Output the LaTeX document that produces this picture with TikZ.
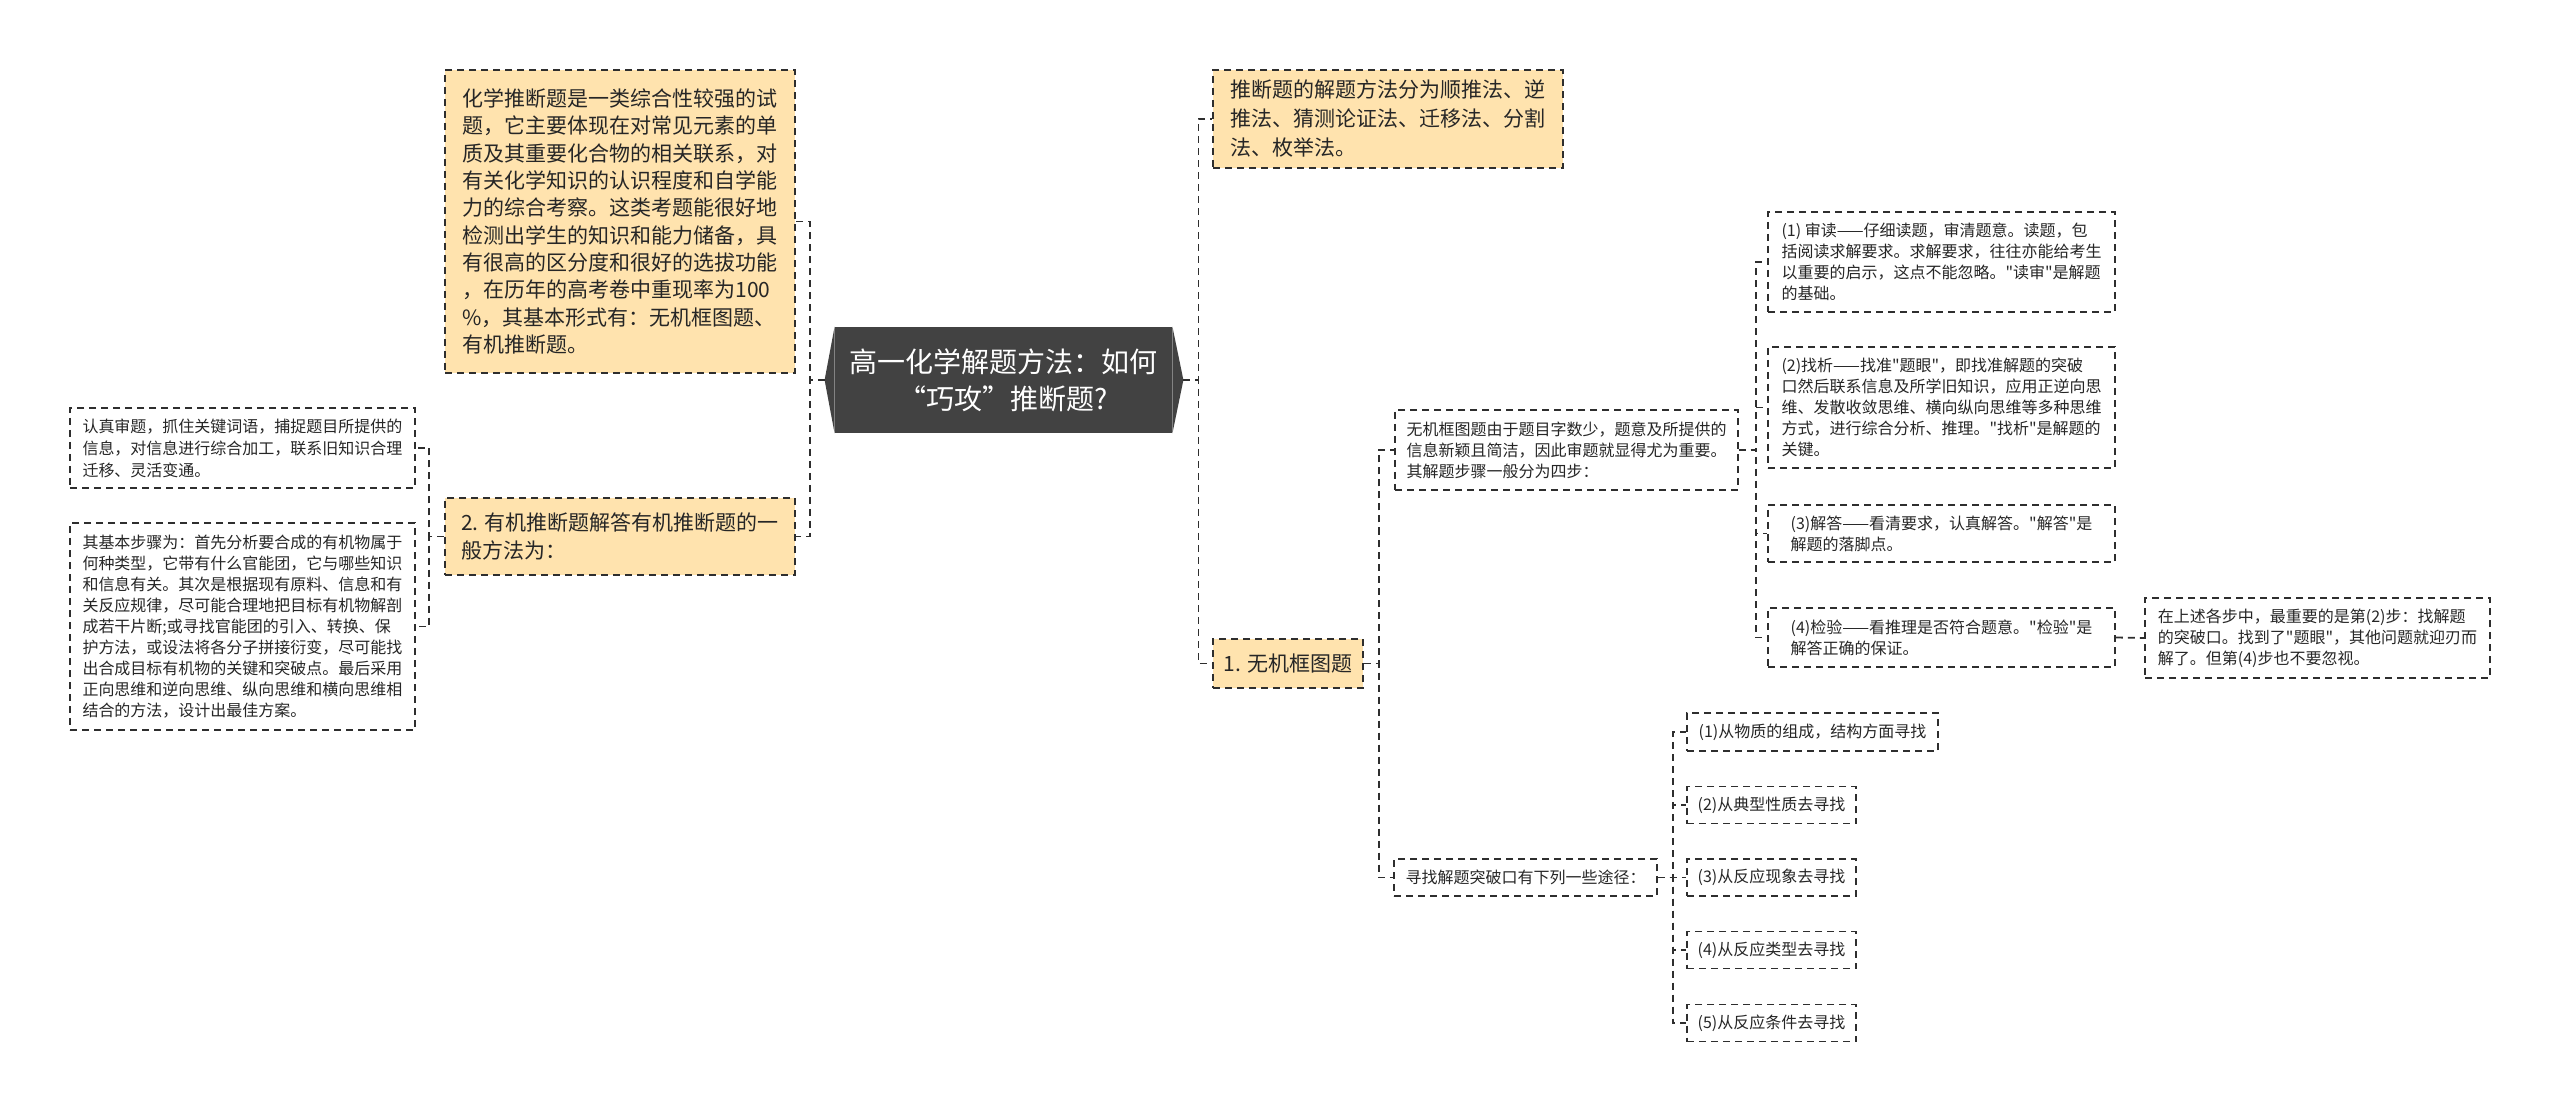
\documentclass[tikz,border=0pt]{standalone}
\usepackage{fontspec}
\setmainfont{Noto Sans CJK SC}[Ligatures=TeXOff]
\definecolor{yfill}{HTML}{FFE3AE}
\definecolor{linec}{HTML}{2E2E2E}
\definecolor{rootfill}{HTML}{424242}
\tikzset{
  bx/.style={draw=linec, line width=0.9pt, dash pattern=on 3.5pt off 2.5pt, align=left, inner sep=2pt, anchor=center, text=black!85},
  ybx/.style={bx, fill=yfill, font={\fontsize{10.5}{14}\selectfont}},
  wbx/.style={bx, fill=white, font={\fontsize{8}{10.5}\selectfont}},
  conn/.style={draw=linec, line width=0.9pt, dash pattern=on 3.5pt off 2.5pt},
}
\begin{document}
\begin{tikzpicture}[x=0.5pt,y=-0.5pt]
\useasboundingbox[fill=white] (0,0) rectangle (2560,1112);

% root
\node[fill=rootfill, text=white, minimum width=168.5pt, minimum height=53pt, inner sep=0pt, align=center,
      font={\fontsize{14}{18.5}\selectfont}] (root) at (1003.5,380) {高一化学解题方法：如何\\“巧攻”推断题?};
\coordinate (rootL) at ([xshift=-5pt]root.west);
\coordinate (rootR) at ([xshift=5.5pt]root.east);
\fill[rootfill] (root.north west) -- (rootL) -- (root.south west) -- cycle;
\fill[rootfill] (root.north east) -- (rootR) -- (root.south east) -- cycle;

% left side
\node[ybx, minimum width=175pt, minimum height=151.5pt, font={\fontsize{10.5}{13.65}\selectfont}] (intro) at (620,221.5) {化学推断题是一类综合性较强的试\\题，它主要体现在对常见元素的单\\质及其重要化合物的相关联系，对\\有关化学知识的认识程度和自学能\\力的综合考察。这类考题能很好地\\检测出学生的知识和能力储备，具\\有很高的区分度和很好的选拔功能\\，在历年的高考卷中重现率为100\\\%，其基本形式有：无机框图题、\\有机推断题。};
\node[ybx, minimum width=175pt, minimum height=38.5pt] (organic) at (620,536.5) {2. 有机推断题解答有机推断题的一\\般方法为：};
\node[wbx, minimum width=172.5pt, minimum height=40pt, font={\fontsize{8}{11}\selectfont}] (A) at (242.5,448) {认真审题，抓住关键词语，捕捉题目所提供的\\信息，对信息进行综合加工，联系旧知识合理\\迁移、灵活变通。};
\node[wbx, minimum width=172.5pt, minimum height=103.5pt] (B) at (242.5,626.5) {其基本步骤为：首先分析要合成的有机物属于\\何种类型，它带有什么官能团，它与哪些知识\\和信息有关。其次是根据现有原料、信息和有\\关反应规律，尽可能合理地把目标有机物解剖\\成若干片断;或寻找官能团的引入、转换、保\\护方法，或设法将各分子拼接衍变，尽可能找\\出合成目标有机物的关键和突破点。最后采用\\正向思维和逆向思维、纵向思维和横向思维相\\结合的方法，设计出最佳方案。};

% right side
\node[ybx, minimum width=175pt, minimum height=49pt, font={\fontsize{10.5}{14.5}\selectfont}] (methods) at (1388,119) {推断题的解题方法分为顺推法、逆\\推法、猜测论证法、迁移法、分割\\法、枚举法。};
\node[ybx, minimum width=75pt, minimum height=24.5pt] (wuji) at (1288,663.5) {1. 无机框图题};
\node[wbx, minimum width=171.5pt, minimum height=40pt] (desc) at (1566.5,450) {无机框图题由于题目字数少，题意及所提供的\\信息新颖且简洁，因此审题就显得尤为重要。\\其解题步骤一般分为四步：};
\node[wbx, minimum width=173.5pt, minimum height=50pt] (s1) at (1941.5,262) {(1) 审读——仔细读题，审清题意。读题，包\\括阅读求解要求。求解要求，往往亦能给考生\\以重要的启示，这点不能忽略。"读审"是解题\\的基础。};
\node[wbx, minimum width=173.5pt, minimum height=60.5pt] (s2) at (1941.5,407.5) {(2)找析——找准"题眼"，即找准解题的突破\\口然后联系信息及所学旧知识，应用正逆向思\\维、发散收敛思维、横向纵向思维等多种思维\\方式，进行综合分析、推理。"找析"是解题的\\关键。};
\node[wbx, minimum width=173.5pt, minimum height=28.5pt] (s3) at (1941.5,533.5) {(3)解答——看清要求，认真解答。"解答"是\\解题的落脚点。};
\node[wbx, minimum width=173.5pt, minimum height=29.5pt] (s4) at (1941.5,637.5) {(4)检验——看推理是否符合题意。"检验"是\\解答正确的保证。};
\node[wbx, minimum width=172.5pt, minimum height=40pt] (note) at (2317.5,638) {在上述各步中，最重要的是第(2)步：找解题\\的突破口。找到了"题眼"，其他问题就迎刃而\\解了。但第(4)步也不要忽视。};
\node[wbx, minimum width=131.5pt, minimum height=18.5pt] (find) at (1525.5,877.5) {寻找解题突破口有下列一些途径：};
\node[wbx, minimum width=125.5pt, minimum height=19pt] (w1) at (1812.5,732) {(1)从物质的组成，结构方面寻找};
\node[wbx, minimum width=84.5pt, minimum height=18.5pt] (w2) at (1771.5,805) {(2)从典型性质去寻找};
\node[wbx, minimum width=84.5pt, minimum height=18.5pt] (w3) at (1771.5,877.5) {(3)从反应现象去寻找};
\node[wbx, minimum width=84.5pt, minimum height=18.5pt] (w4) at (1771.5,950) {(4)从反应类型去寻找};
\node[wbx, minimum width=84.5pt, minimum height=18.5pt] (w5) at (1771.5,1023) {(5)从反应条件去寻找};

% connectors
\draw[conn] (rootL) -- ++(-15,0) |- (intro.east);
\draw[conn] (rootL) -- ++(-15,0) |- (organic.east);
\draw[conn] (organic.west) -- ++(-15,0) |- (A.east);
\draw[conn] (organic.west) -- ++(-15,0) |- (B.east);
\draw[conn] (rootR) -- ++(15,0) |- (methods.west);
\draw[conn] (rootR) -- ++(15,0) |- (wuji.west);
\draw[conn] (wuji.east) -- ++(15,0) |- (desc.west);
\draw[conn] (wuji.east) -- ++(15,0) |- (find.west);
\foreach \n in {s1,s2,s3,s4}{\draw[conn] (desc.east) -- ++(17,0) |- (\n.west);}
\draw[conn] (s4.east) -- (note.west);
\foreach \n in {w1,w2,w3,w4,w5}{\draw[conn] (find.east) -- ++(15,0) |- (\n.west);}
\end{tikzpicture}
\end{document}
